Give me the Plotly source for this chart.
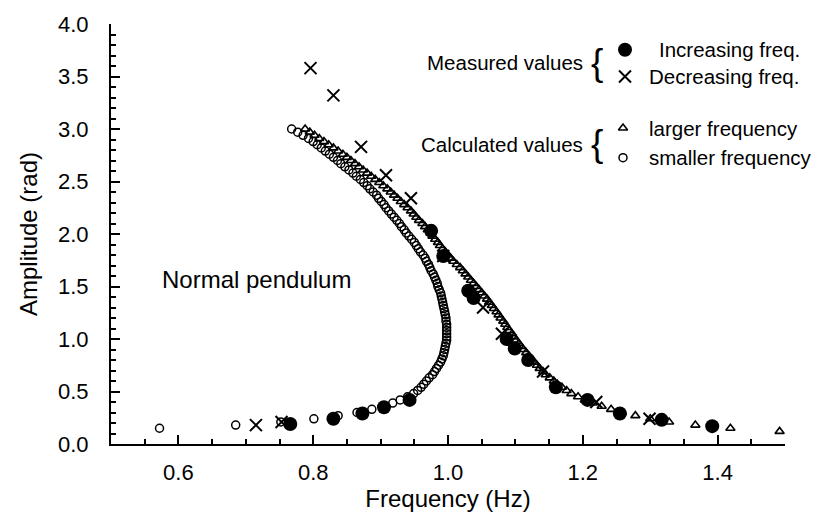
import plotly.graph_objects as go

# ---------------- data ----------------
# Measured values, increasing frequency (filled circles)
inc_freq = [0.766, 0.830, 0.873, 0.905, 0.943, 0.975, 0.993, 1.030, 1.038,
            1.087, 1.099, 1.119, 1.160, 1.207, 1.255, 1.317, 1.392]
inc_amp = [0.19, 0.24, 0.29, 0.35, 0.42, 2.03, 1.79, 1.46, 1.39,
           1.00, 0.91, 0.80, 0.54, 0.42, 0.29, 0.23, 0.17]

# Measured values, decreasing frequency (crosses)
dec_freq = [0.715, 0.753, 0.796, 0.830, 0.871, 0.908, 0.945, 0.993, 1.052,
            1.080, 1.141, 1.220, 1.299]
dec_amp = [0.18, 0.21, 3.58, 3.32, 2.83, 2.56, 2.34, 1.79, 1.30,
           1.05, 0.69, 0.40, 0.24]

# Calculated values, smaller frequency branch (open circles)
small_amp = [0.15, 0.18, 0.21, 0.24, 0.27, 0.30, 0.33, 0.36, 0.39, 0.42,
             0.45, 0.48, 0.51, 0.54, 0.57, 0.60, 0.63, 0.66, 0.69, 0.72,
             0.75, 0.78, 0.81, 0.84, 0.87, 0.90, 0.93, 0.96, 0.99, 1.02,
             1.05, 1.08, 1.11, 1.14, 1.17, 1.20, 1.23, 1.26, 1.29, 1.32,
             1.35, 1.38, 1.41, 1.44, 1.47, 1.50, 1.53, 1.56, 1.59, 1.62,
             1.65, 1.68, 1.71, 1.74, 1.77, 1.80, 1.83, 1.86, 1.89, 1.92,
             1.95, 1.98, 2.01, 2.04, 2.07, 2.10, 2.13, 2.16, 2.19, 2.22,
             2.25, 2.28, 2.31, 2.34, 2.37, 2.40, 2.43, 2.46, 2.49, 2.52,
             2.55, 2.58, 2.61, 2.64, 2.67, 2.70, 2.73, 2.76, 2.79, 2.82,
             2.85, 2.88, 2.91, 2.94, 2.97, 3.00]
small_freq = [0.572, 0.685, 0.752, 0.801, 0.837, 0.865, 0.887, 0.904, 0.918, 0.929,
              0.940, 0.949, 0.955, 0.960, 0.964, 0.968, 0.972, 0.977, 0.980, 0.983,
              0.986, 0.989, 0.991, 0.993, 0.994, 0.995, 0.996, 0.997, 0.998, 0.998,
              0.998, 0.998, 0.998, 0.998, 0.997, 0.997, 0.996, 0.995, 0.994, 0.993,
              0.992, 0.991, 0.990, 0.989, 0.987, 0.985, 0.984, 0.982, 0.980, 0.978,
              0.975, 0.973, 0.971, 0.968, 0.966, 0.963, 0.959, 0.956, 0.953, 0.950,
              0.946, 0.942, 0.938, 0.935, 0.931, 0.928, 0.924, 0.920, 0.916, 0.912,
              0.908, 0.905, 0.901, 0.897, 0.894, 0.889, 0.884, 0.880, 0.875, 0.870,
              0.864, 0.859, 0.853, 0.847, 0.841, 0.836, 0.830, 0.824, 0.818, 0.812,
              0.806, 0.800, 0.793, 0.785, 0.777, 0.768]

# Calculated values, larger frequency branch (open triangles)
large_amp = [0.12, 0.15, 0.18, 0.21, 0.24, 0.27, 0.30, 0.33, 0.36, 0.39,
             0.42, 0.45, 0.48, 0.51, 0.54, 0.57, 0.60, 0.63, 0.66, 0.69,
             0.72, 0.75, 0.78, 0.81, 0.84, 0.87, 0.90, 0.93, 0.96, 0.99,
             1.02, 1.05, 1.08, 1.11, 1.14, 1.17, 1.20, 1.23, 1.26, 1.29,
             1.32, 1.35, 1.38, 1.41, 1.44, 1.47, 1.50, 1.53, 1.56, 1.59,
             1.62, 1.65, 1.68, 1.71, 1.74, 1.77, 1.80, 1.83, 1.86, 1.89,
             1.92, 1.95, 1.98, 2.01, 2.04, 2.07, 2.10, 2.13, 2.16, 2.19,
             2.22, 2.25, 2.28, 2.31, 2.34, 2.37, 2.40, 2.43, 2.46, 2.49,
             2.52, 2.55, 2.58, 2.61, 2.64, 2.67, 2.70, 2.73, 2.76, 2.79,
             2.82, 2.85, 2.88, 2.91, 2.94, 2.97, 3.00]
large_freq = [1.492, 1.419, 1.367, 1.328, 1.300, 1.278, 1.258, 1.242, 1.228, 1.215,
              1.203, 1.193, 1.183, 1.176, 1.169, 1.162, 1.157, 1.151, 1.145, 1.141,
              1.136, 1.132, 1.128, 1.124, 1.120, 1.116, 1.112, 1.108, 1.105, 1.101,
              1.098, 1.095, 1.091, 1.088, 1.085, 1.082, 1.078, 1.075, 1.072, 1.068,
              1.065, 1.061, 1.058, 1.054, 1.050, 1.046, 1.042, 1.038, 1.034, 1.030,
              1.026, 1.022, 1.018, 1.013, 1.008, 1.004, 1.000, 0.996, 0.992, 0.988,
              0.985, 0.981, 0.977, 0.974, 0.970, 0.966, 0.962, 0.957, 0.953, 0.949,
              0.945, 0.940, 0.935, 0.930, 0.925, 0.920, 0.915, 0.910, 0.904, 0.898,
              0.892, 0.886, 0.880, 0.874, 0.868, 0.862, 0.856, 0.850, 0.844, 0.837,
              0.830, 0.823, 0.816, 0.809, 0.802, 0.795, 0.788]

x_ticks = [0.6, 0.8, 1.0, 1.2, 1.4]
y_ticks = [0.0, 0.5, 1.0, 1.5, 2.0, 2.5, 3.0, 3.5, 4.0]

# ---------------- styles / layout ----------------
W, H = 816, 518
L, R, T, B = 111, 31, 20, 74
FONT = "Liberation Sans, Arial, sans-serif"
INK = "black"

sty_small = dict(symbol="circle-open", size=8, color=INK, line=dict(width=1.5, color=INK))
sty_large = dict(symbol="triangle-up-open", size=8, color=INK, line=dict(width=1.6, color=INK))
sty_inc = dict(symbol="circle", size=14, color=INK, line=dict(width=0))
sty_dec = dict(symbol="x-thin", size=12, color=INK, line=dict(width=2, color=INK))

fig = go.Figure()
fig.add_trace(go.Scatter(x=small_freq, y=small_amp, mode="markers", marker=sty_small, cliponaxis=False))
fig.add_trace(go.Scatter(x=large_freq, y=large_amp, mode="markers", marker=sty_large, cliponaxis=False))
fig.add_trace(go.Scatter(x=inc_freq, y=inc_amp, mode="markers", marker=sty_inc, cliponaxis=False))
fig.add_trace(go.Scatter(x=dec_freq, y=dec_amp, mode="markers", marker=sty_dec, cliponaxis=False))

# Key (legend) drawn on an overlay axis expressed in page pixels
key_x = [625, 625, 623, 623]
key_y = [46, 73, 125, 155]
key_styles = [sty_inc, sty_dec, sty_large, sty_small]
for kx, ky, ks in zip(key_x, key_y, key_styles):
    fig.add_trace(go.Scatter(x=[kx], y=[ky], xaxis="x2", yaxis="y2", mode="markers",
                             marker=ks, cliponaxis=False))

KEY_FS = 20.5
key_texts = [
    ("Measured values", 585, 59, "right"),
    ("Increasing freq.", 657, 46, "left"),
    ("Decreasing freq.", 647, 73, "left"),
    ("Calculated values", 585, 142, "right"),
    ("larger frequency", 647, 125, "left"),
    ("smaller frequency", 647, 155, "left"),
]
annotations = []
for txt, ax_, ay_, anc in key_texts:
    annotations.append(dict(text=txt, x=ax_, y=ay_, xref="x2", yref="y2", xanchor=anc,
                            yanchor="middle", showarrow=False,
                            font=dict(family=FONT, size=KEY_FS, color=INK)))
for by in (59, 141):
    annotations.append(dict(text="{", x=597, y=by, xref="x2", yref="y2", xanchor="center",
                            yanchor="middle", showarrow=False,
                            font=dict(family=FONT, size=37, color=INK)))
annotations.append(dict(text="Normal pendulum", x=353, y=278, xref="x2", yref="y2",
                        xanchor="right", yanchor="middle", showarrow=False,
                        font=dict(family=FONT, size=24, color=INK)))

axis_common = dict(showgrid=False, zeroline=False, showline=True, linecolor=INK, linewidth=2,
                   ticks="inside", tickcolor=INK, tickwidth=1.5, ticklen=9,
                   tickfont=dict(family=FONT, size=22, color=INK), mirror=False)

fig.update_layout(
    width=W, height=H, margin=dict(l=L, r=R, t=T, b=B),
    paper_bgcolor="white", plot_bgcolor="white", showlegend=False,
    xaxis=dict(range=[0.5, 1.5], tickvals=x_ticks, tickformat=".1f",
               minor=dict(dtick=0.05, tick0=0.5, ticks="inside", ticklen=5, tickcolor=INK, tickwidth=1.5),
               title=dict(text="Frequency (Hz)", font=dict(family=FONT, size=24, color=INK), standoff=4),
               ticklabelstandoff=8, **axis_common),
    yaxis=dict(range=[0, 4], tickvals=y_ticks, tickformat=".1f",
               minor=dict(dtick=0.1, tick0=0, ticks="inside", ticklen=5, tickcolor=INK, tickwidth=1.5),
               title=dict(text="Amplitude (rad)", font=dict(family=FONT, size=24, color=INK), standoff=14),
               ticklabelstandoff=16, **axis_common),
    xaxis2=dict(range=[L, W - R], overlaying="x", visible=False, fixedrange=True),
    yaxis2=dict(range=[H - B, T], overlaying="y", visible=False, fixedrange=True),
    annotations=annotations,
)

fig.write_html("out.html")
